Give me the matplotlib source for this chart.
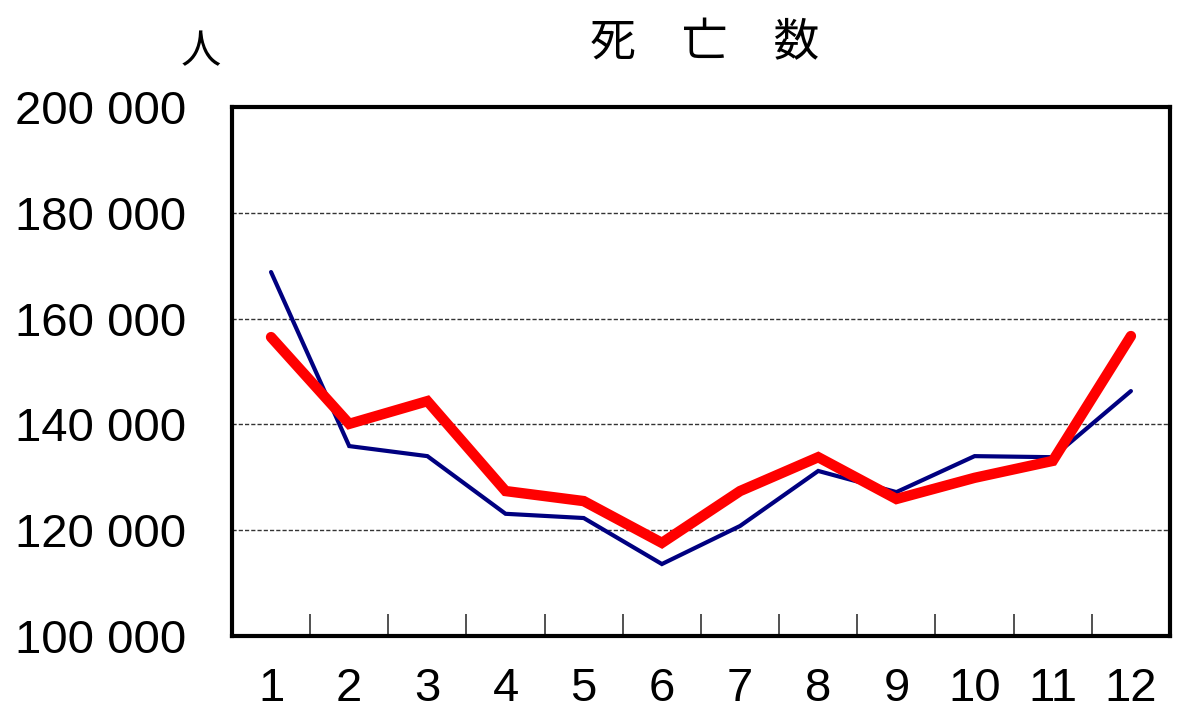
import numpy as np
import matplotlib
matplotlib.use('Agg')
import matplotlib.pyplot as plt
from matplotlib.ticker import FixedLocator, FuncFormatter

plt.rcParams['font.family'] = ['Liberation Sans Narrow', 'Liberation Sans', 'Noto Sans CJK JP', 'DejaVu Sans']

months = [1, 2, 3, 4, 5, 6, 7, 8, 9, 10, 11, 12]
deaths_red = [156500, 140100, 144400, 127400, 125500, 117600, 127400, 133800, 125900, 129900, 133100, 156700]
deaths_blue = [168800, 135900, 134000, 123100, 122300, 113600, 120800, 131200, 127200, 134000, 133800, 146300]
y_ticks = [100000, 120000, 140000, 160000, 180000, 200000]

fig = plt.figure(figsize=(12, 7.21), dpi=100)
ax = fig.add_axes([0.1933, 0.1179, 0.7817, 0.7337])

x = np.arange(len(months))
ax.plot(x, deaths_blue, color='#000080', lw=3, solid_capstyle='round', solid_joinstyle='miter', zorder=3)
ax.plot(x, deaths_red, color='#ff0000', lw=7.5, solid_capstyle='round', solid_joinstyle='miter', zorder=4)

ax.set_xlim(-0.5, len(months) - 0.5)
ax.set_ylim(100000, 200000)

ax.set_yticks(y_ticks)
ax.yaxis.set_major_formatter(FuncFormatter(lambda v, p: f'{int(v):,}'.replace(',', ' ')))
ax.tick_params(axis='y', length=0, pad=33, labelsize=34)
for v in y_ticks[1:-1]:
    ax.axhline(v, color='#333333', lw=1, ls=(0, (3, 1.5)), zorder=1)

ax.set_xticks(x)
ax.set_xticklabels([str(m) for m in months])
ax.tick_params(axis='x', which='major', length=0, pad=22, labelsize=34)
ax.xaxis.set_minor_locator(FixedLocator(np.arange(0.5, len(months) - 1, 1)))
ax.tick_params(axis='x', which='minor', direction='in', length=16, width=1.2, color='#333333')

for s in ax.spines.values():
    s.set_linewidth(3)
    s.set_color('black')

fig.text(0.5875, 0.94, '死　亡　数', ha='center', va='center', fontsize=33,
         family=['Noto Sans CJK JP', 'DejaVu Sans'])
fig.text(0.167, 0.928, '人', ha='center', va='center', fontsize=29,
         family=['Noto Sans CJK JP', 'DejaVu Sans'])

fig.savefig('out.png', dpi=100)
